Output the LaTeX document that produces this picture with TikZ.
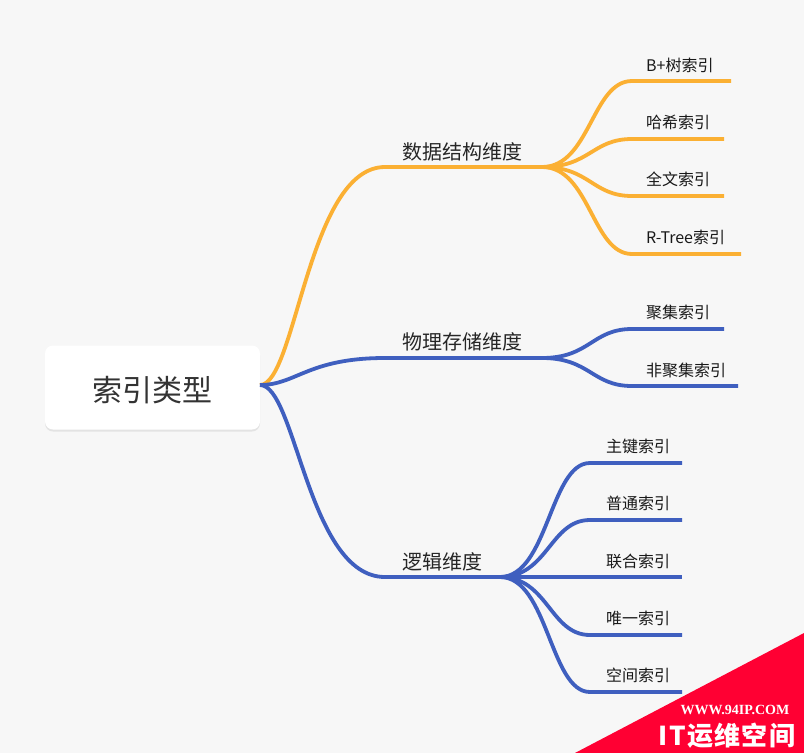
\documentclass[tikz,border=0pt]{standalone}
\usepackage{fontspec}
\setmainfont{Noto Sans CJK SC}
\newfontfamily\markfont{Liberation Serif}
\newfontfamily\brandfont[LetterSpace=5]{Noto Sans CJK SC}
\usetikzlibrary{calc,shadows}
\definecolor{pagegray}{HTML}{F7F7F7}
\definecolor{branchorange}{HTML}{FBB033}
\definecolor{branchblue}{HTML}{3F5FBF}
\definecolor{markred}{HTML}{FF0033}
\definecolor{inkgray}{HTML}{333333}
\tikzstyle{root_topic} =
  [ rectangle
  , rounded corners=8pt
  , fill=white
  , minimum width=215pt
  , minimum height=84pt
  , drop shadow={shadow xshift=0pt,shadow yshift=-2pt,opacity=0.08,fill=black}
  , text=inkgray
  , text height=28pt
  , text depth=0pt
  , font=\fontsize{30}{30}\selectfont
  ]
\tikzstyle{main_topic} =
  [ anchor=base west
  , inner sep=0pt
  , text=black!85
  , font=\fontsize{20}{20}\selectfont
  ]
\tikzstyle{sub_topic} =
  [ anchor=base west
  , inner sep=0pt
  , text=black!90
  , font=\fontsize{16}{16}\selectfont
  ]
\tikzstyle{orange_line} = [branchorange, line width=3.8pt]
\tikzstyle{blue_line}   = [branchblue, line width=3.8pt]
\tikzstyle{main_curve}  = [out=0, in=180, out distance=36pt, in distance=77pt]
\tikzstyle{sub_curve}   = [out=0, in=180, out distance=48pt, in distance=40pt]
\def\RootTopic{索引类型}
\begin{document}
\begin{tikzpicture}[x=1pt,y=-1pt]
    \path[use as bounding box,fill=pagegray] (0,0) rectangle (804,753);

    \node[root_topic] (root)        at (152.5, 387.5) {\RootTopic};
    \coordinate       (root_out)    at (260, 385);

    \node[main_topic] (structure)   at (402, 159) {数据结构维度};
    \node[main_topic] (physical)    at (402, 349) {物理存储维度};
    \node[main_topic] (logical)     at (402, 569) {逻辑维度};

    \node[sub_topic]  (btree)       at (646,  71) {B+树索引};
    \node[sub_topic]  (hash)        at (646, 128) {哈希索引};
    \node[sub_topic]  (fulltext)    at (646, 185) {全文索引};
    \node[sub_topic]  (rtree)       at (646, 243) {R-Tree索引};
    \node[sub_topic]  (clustered)   at (646, 318) {聚集索引};
    \node[sub_topic]  (nonclustered) at (646, 376) {非聚集索引};
    \node[sub_topic]  (primary)     at (606, 452) {主键索引};
    \node[sub_topic]  (normal)      at (606, 509) {普通索引};
    \node[sub_topic]  (composite)   at (606, 567) {联合索引};
    \node[sub_topic]  (unique)      at (606, 624) {唯一索引};
    \node[sub_topic]  (spatial)     at (606, 681) {空间索引};

    % main branches
    \coordinate (structure_in)  at (385, 167);
    \coordinate (structure_out) at (542, 167);
    \coordinate (physical_in)   at (385, 358);
    \coordinate (physical_out)  at (542, 358);
    \coordinate (logical_in)    at (385, 577);
    \coordinate (logical_out)   at (500, 577);

    \draw[orange_line] (root_out) to [main_curve] (structure_in) -- (structure_out);
    \draw[blue_line]   (root_out) to [main_curve] (physical_in)  -- (physical_out);
    \draw[blue_line]   (root_out) to [main_curve] (logical_in)   -- (logical_out);

    % sub branches
    \foreach \name/\inx/\outx/\y in {btree/632/731/81, hash/632/724/139, fulltext/632/724/196, rtree/632/741/254}
      \draw[orange_line] (structure_out) to [sub_curve] (\inx,\y) -- (\outx,\y);
    \foreach \name/\inx/\outx/\y in {clustered/632/724/329, nonclustered/632/738/386}
      \draw[blue_line] (physical_out) to [sub_curve] (\inx,\y) -- (\outx,\y);
    \foreach \name/\inx/\outx/\y in {primary/590/682/463, normal/590/682/520, composite/590/682/577, unique/590/682/635, spatial/590/682/692}
      \draw[blue_line] (logical_out) to [sub_curve] (\inx,\y) -- (\outx,\y);

    % watermark
    \fill[markred] (804,633) -- (804,753) -- (575,753) -- cycle;
    \node[anchor=base,inner sep=0pt,text=white,font=\markfont\bfseries\fontsize{14}{14}\selectfont] (site) at (735, 714) {WWW.94IP.COM};
    \node[anchor=base,inner sep=0pt,text=white,font=\brandfont\bfseries\fontsize{26}{26}\selectfont] (brand) at (727, 745) {IT运维空间};
\end{tikzpicture}
\end{document}
